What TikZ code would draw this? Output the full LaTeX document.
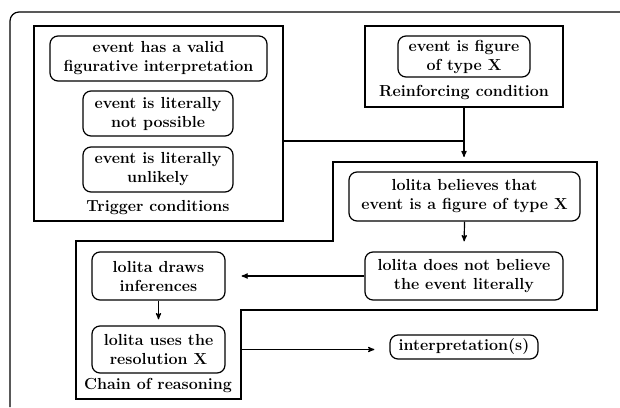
\documentclass[tikz,border=0pt]{standalone}
\usepackage{fontspec}
\usepackage{tikz}
\usetikzlibrary{shapes,arrows}

\tikzset{
  fact/.style={draw, rounded corners=8pt, align=center, inner sep=0pt,
               font=\bfseries\fontsize{16}{19}\selectfont},
  frame/.style={draw, inner sep=0pt},
  caption/.style={font=\bfseries\fontsize{16}{19}\selectfont}
}

\begin{document}
\begin{tikzpicture}[x=1pt,y=-1pt,line width=1.2pt,>=stealth']
    \useasboundingbox (0,0) rectangle (620,407);

    % Outer frame (cut off at the right and bottom)
    \draw [rounded corners=9pt] (10,407) -- (10,12) -- (620,12);

    % Trigger conditions
    \node [frame, minimum width=249pt, minimum height=195pt] (trig) at (158.5,123.5) {};
    \node [fact, minimum width=217pt, minimum height=45pt] (valid) at (158.5,58.5)
          {event has a valid\\figurative interpretation};
    \node [fact, minimum width=150pt, minimum height=45pt] (notposs) at (158,113.5)
          {event is literally\\not possible};
    \node [fact, minimum width=150pt, minimum height=45pt] (unlikely) at (158,169.5)
          {event is literally\\unlikely};
    \node [caption] (trigcap) at (158,208) {Trigger conditions};

    % Reinforcing condition
    \node [frame, minimum width=198pt, minimum height=81pt] (reinf) at (464,66.5) {};
    \node [fact, minimum width=132pt, minimum height=41pt] (figure) at (464,56.5)
          {event is figure\\of type \textbf{X}};
    \node [caption] (reinfcap) at (464,93) {Reinforcing condition};

    % Chain of reasoning
    \draw (76,241) -- (333,241) -- (333,162) -- (597,162) -- (597,310)
          -- (241,310) -- (241,399) -- (76,399) -- cycle;
    \coordinate (ctop) at (464,162);
    \coordinate (join) at (464,141);
    \node [fact, minimum width=231pt, minimum height=49pt] (believes) at (464.5,196.5)
          {lolita believes that\\event is a figure of type \textbf{X}};
    \node [fact, minimum width=198pt, minimum height=48pt] (notbel) at (464,276)
          {lolita does not believe\\the event literally};
    \node [fact, minimum width=133pt, minimum height=48pt] (draws) at (158.5,276)
          {lolita draws\\inferences};
    \node [fact, minimum width=133pt, minimum height=47pt] (uses) at (158.5,349.5)
          {lolita uses the\\resolution \textbf{X}};
    \node [caption] (chaincap) at (158,385) {Chain of reasoning};

    \node [fact, minimum width=148pt, minimum height=24pt] (interp) at (464,347)
          {interpretation(s)};

    % Connections
    \draw [->, shorten >=5pt] (reinf.south) -- (ctop);
    \draw [-] (trig.east |- join) -- (join);
    \draw [->, shorten >=10pt] (believes.south) -- (notbel.north);
    \draw [->, shorten >=16pt] (notbel.west) -- (draws.east);
    \draw [->, shorten >=6pt] (draws.south) -- (uses.north);
    \draw [->, shorten <=16pt, shorten >=15pt] (uses.east) -- (interp.west |- uses.east);

\end{tikzpicture}
\end{document}
